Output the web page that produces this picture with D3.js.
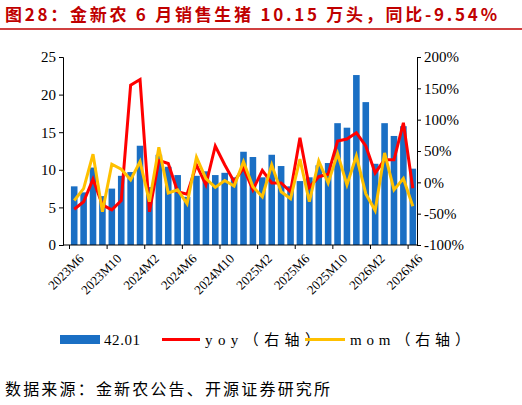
<!DOCTYPE html><html><head><meta charset="utf-8"><script src="https://cdn.jsdelivr.net/npm/d3@7"></script>
<style>body{margin:0;background:#fff}</style></head><body><svg id="c" width="522" height="405"></svg>
<script>
const months=[];for(let y=2023,m=6;!(y==2026&&m==7);){months.push(y+"M"+m);m++;if(m>12){m=1;y++;}}
const sales=[7.8,7.0,10.3,6.5,7.5,9.2,9.7,13.2,7.7,12.0,10.4,9.3,6.4,9.2,9.8,9.3,9.6,9.0,12.4,11.7,9.0,12.0,10.5,7.8,8.5,9.0,10.6,10.9,16.2,15.6,22.6,19.0,10.8,16.2,14.5,15.8,10.15];
const yoy=[-43,-31,5,-36,-44,-29,155,164,-47,35,30,-15,-19,28,-4,58,28,1,23,-12,19,-1,-1,-15,71,-8,9,13,66,69,79,58,15,36,36,95,-9.54];
const mom=[-29,-10,45,-47,29,21,4,33,-31,56,-17,-12,-34,40,6,-8,3,-6,33,-7,-23,28,-15,-26,37,-31,34,-1,46,-4,42,-18,-45,47,-12,6,-38];
const leftTicks=[0,5,10,15,20,25], rightTicks=[-100,-50,0,50,100,150,200];
const svg=d3.select("#c"),F="'Times New Roman','Liberation Serif',serif";
svg.append("text").attr("x",5).attr("y",21).attr("fill","#c00000").attr("font-weight","bold").attr("font-size",17).attr("font-family","'Noto Sans CJK SC'").attr("textLength",492).attr("lengthAdjust","spacing").text("图28：金新农 6 月销售生猪 10.15 万头，同比-9.54%");
svg.append("line").attr("x1",0).attr("x2",522).attr("y1",29).attr("y2",29).attr("stroke","#c00000").attr("stroke-width",1.5);
const x=d3.scaleBand().domain(months).range([69.5,417.5]).paddingInner(0.3).paddingOuter(0.15);
const yl=d3.scaleLinear().domain([0,25]).range([245,57]);
const yr=d3.scaleLinear().domain([-100,200]).range([245,57]);
const g=svg.append("g");
g.selectAll("rect").data(sales).join("rect").attr("x",(d,i)=>x(months[i])).attr("width",x.bandwidth()).attr("y",d=>yl(d)).attr("height",d=>245-yl(d)).attr("fill","#1a6fc4");
const cx=(d,i)=>x(months[i])+x.bandwidth()/2;
const ln=d3.line().x(cx).y(d=>yr(d));
g.append("path").attr("d",ln(yoy)).attr("fill","none").attr("stroke","#ff0000").attr("stroke-width",3);
g.append("path").attr("d",ln(mom)).attr("fill","none").attr("stroke","#ffc000").attr("stroke-width",3);
const la=svg.append("g").attr("transform","translate(63,0)").call(d3.axisLeft(yl).tickValues(leftTicks).tickSize(4));
const ra=svg.append("g").attr("transform","translate(417,0)").call(d3.axisRight(yr).tickValues(rightTicks).tickSize(4).tickFormat(d=>d+"%"));
const step=x.step();
const xa=svg.append("g").attr("transform","translate(0,245)");
xa.append("line").attr("x1",63).attr("x2",417).attr("stroke","#000");
months.forEach((m,i)=>{ if(i%4==0){
  const bx=x(m)-x.paddingInner()*step/2;
  xa.append("line").attr("x1",bx).attr("x2",bx).attr("y1",0).attr("y2",4).attr("stroke","#000");
  xa.append("text").attr("transform",`translate(${cx(0,i)+4},8) rotate(-45)`).attr("text-anchor","end").attr("dy","0.7em").attr("font-size",13).attr("font-family",F).text(m);
}});
[la,ra].forEach(a=>{a.select(".domain").attr("stroke","#000");a.selectAll("text").attr("font-size",15).attr("font-family",F).attr("fill","#000");});
const lg=svg.append("g").attr("font-size",15).attr("font-family","'Times New Roman','Noto Sans CJK SC',serif");
lg.append("rect").attr("x",60).attr("y",335).attr("width",40).attr("height",9).attr("fill","#1a6fc4");
lg.append("text").attr("x",104).attr("y",345).attr("textLength",36).text("42.01");
lg.append("line").attr("x1",162).attr("x2",200).attr("y1",339.5).attr("y2",339.5).attr("stroke","#ff0000").attr("stroke-width",3);
lg.append("text").attr("x",205).attr("y",345).attr("textLength",115).text("yoy（右轴）");
lg.append("line").attr("x1",305).attr("x2",345).attr("y1",339.5).attr("y2",339.5).attr("stroke","#ffc000").attr("stroke-width",3);
lg.append("text").attr("x",350).attr("y",345).attr("textLength",120).text("mom（右轴）");
svg.append("text").attr("x",5).attr("y",395).attr("font-size",16).attr("font-family","'Noto Sans CJK SC'").attr("textLength",325).text("数据来源：金新农公告、开源证券研究所");
</script></body></html>
